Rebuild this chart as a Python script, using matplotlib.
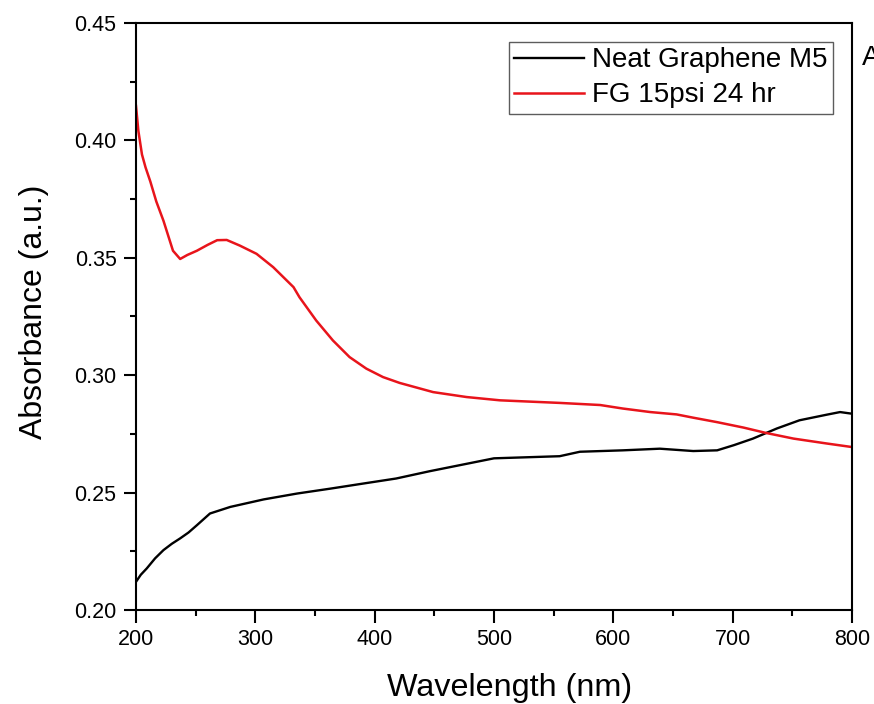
import matplotlib
matplotlib.use("Agg")
import matplotlib.pyplot as plt
from matplotlib.ticker import MultipleLocator, FormatStrFormatter

plt.rcParams['font.family'] = ['Liberation Sans', 'DejaVu Sans']

# Wavelength (nm) / absorbance
fg_wavelength = [200, 202, 205, 208, 212, 217, 223, 231, 237, 243, 251, 260, 268, 276,
                 287, 301, 315, 332, 337, 351, 365, 379, 393, 407, 421, 449, 477, 505,
                 555, 589, 608, 631, 653, 667, 687, 709, 728, 751, 779, 800]
fg_absorb = [0.4147, 0.404, 0.394, 0.3885, 0.3825, 0.374, 0.3658, 0.353, 0.3495, 0.3512, 0.353,
             0.3555, 0.3575, 0.3576, 0.3552, 0.3517, 0.346, 0.3375, 0.3332, 0.3233, 0.3148,
             0.3077, 0.3028, 0.2992, 0.2967, 0.2928, 0.2907, 0.2893, 0.2882, 0.2873, 0.2858,
             0.2843, 0.2833, 0.2819, 0.2800, 0.2777, 0.2754, 0.2730, 0.2709, 0.2694]

neat_wavelength = [200, 204, 209, 216, 223, 230, 237, 244, 251, 262, 279, 307, 335, 363,
                   391, 418, 446, 500, 555, 572, 608, 639, 667, 687, 701, 717, 737, 756,
                   779, 790, 800]
neat_absorb = [0.2120, 0.2150, 0.2177, 0.2220, 0.2255, 0.2282, 0.2305, 0.2330, 0.2361, 0.2411,
               0.2439, 0.2471, 0.2496, 0.2517, 0.2539, 0.2560, 0.2591, 0.2646, 0.2655, 0.2674,
               0.2680, 0.2687, 0.2677, 0.2680, 0.2702, 0.2730, 0.2773, 0.2808, 0.2832, 0.2843,
               0.2836]

series_labels = ["Neat Graphene M5", "FG 15psi 24 hr"]

fig = plt.figure(figsize=(8.74, 7.04), dpi=100)
ax = fig.add_axes([136/874, 1-610/704, (852-136)/874, (610-23)/704])

ax.plot(neat_wavelength, neat_absorb, color='black', lw=1.7, label=series_labels[0])
ax.plot(fg_wavelength, fg_absorb, color='#e8141b', lw=1.8, label=series_labels[1])

ax.set_xlim(200, 800)
ax.set_ylim(0.20, 0.45)
ax.xaxis.set_major_locator(MultipleLocator(100))
ax.xaxis.set_minor_locator(MultipleLocator(50))
ax.yaxis.set_major_locator(MultipleLocator(0.05))
ax.yaxis.set_minor_locator(MultipleLocator(0.025))
ax.yaxis.set_major_formatter(FormatStrFormatter('%.2f'))

for s in ax.spines.values():
    s.set_linewidth(1.5)
ax.tick_params(which='major', direction='out', length=9, width=1.5, labelsize=15.5, pad=5)
ax.tick_params(which='minor', direction='out', length=4.5, width=1.5)

ax.set_xlabel("Wavelength (nm)", fontsize=23.3)
ax.set_ylabel("Absorbance (a.u.)", fontsize=23)
ax.xaxis.set_label_coords(0.522, -0.108)
ax.yaxis.set_label_coords(-0.122, 0.508)

leg = ax.legend(loc='upper right', fontsize=20, frameon=True, fancybox=False,
                edgecolor='#333333', borderaxespad=0.68, handlelength=2.5,
                labelspacing=0.32, borderpad=0.2, handletextpad=0.3)
leg.get_frame().set_linewidth(1.0)

fig.text(862/874, 1-58/704, "A", fontsize=20, ha='left', va='center')

fig.savefig("out.png", dpi=100)
